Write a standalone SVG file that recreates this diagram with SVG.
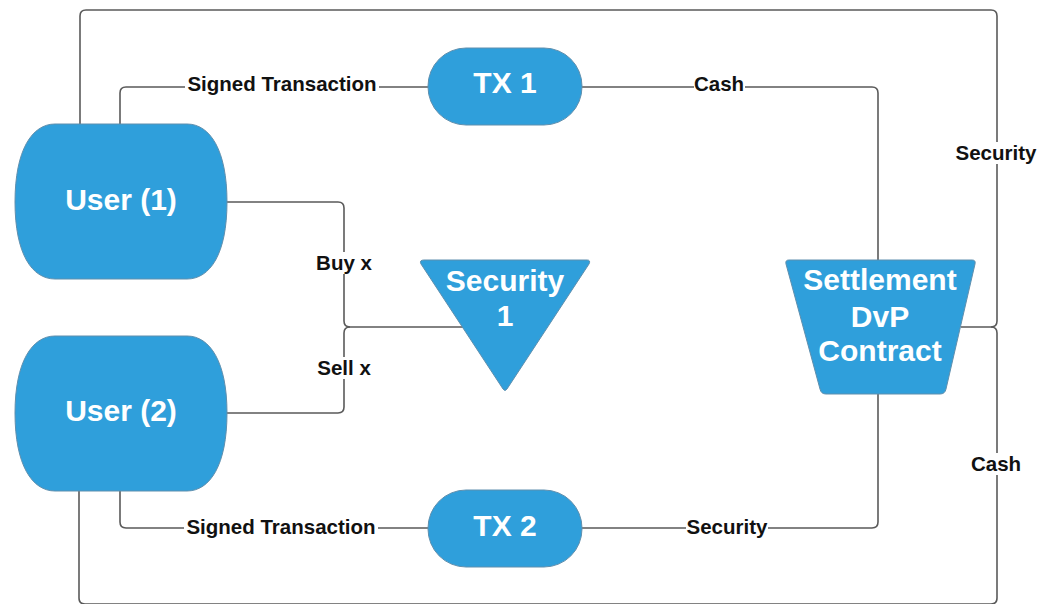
<svg xmlns="http://www.w3.org/2000/svg" width="1047" height="604" viewBox="0 0 1047 604">
<style>
.node{fill:#2f9fdb;stroke:#5f8fae;stroke-width:1}
.nt{font-family:"Liberation Sans",Arial,sans-serif;font-weight:bold;font-size:30px;fill:#fff;text-anchor:middle}
.ln{fill:none;stroke:#5a5a5a;stroke-width:1.6}
.bg{fill:#fff}
.lb{font-family:"Liberation Sans",Arial,sans-serif;font-weight:bold;font-size:20.5px;fill:#111;text-anchor:middle}
</style>
<rect width="1047" height="604" fill="#fff"/>
<g id="connectors">
<path class="ln" d="M80,125 V16 Q80,10 86,10 H991 Q997,10 997,16 V321 Q997,327 991,327 H961"/>
<path class="ln" d="M79,491 V598 Q79,604 85,604 H991 Q997,604 997,598 V333 Q997,327 991,327"/>
<path class="ln" d="M120,125 V93 Q120,87 126,87 H428"/>
<path class="ln" d="M582,87 H872 Q878,87 878,93 V260"/>
<path class="ln" d="M227,202 H338 Q344,202 344,208 V321 Q344,327 350,327 H464"/>
<path class="ln" d="M227,413 H338 Q344,413 344,407 V333 Q344,327 350,327"/>
<path class="ln" d="M120,491 V522 Q120,528 126,528 H428"/>
<path class="ln" d="M582,528 H872 Q878,528 878,522 V394"/>
<rect class="bg" x="185" y="74" width="194" height="22"/>
<text class="lb" x="282" y="91">Signed Transaction</text>
<rect class="bg" x="694" y="74" width="51" height="22"/>
<text class="lb" x="719" y="91">Cash</text>
<rect class="bg" x="955" y="142" width="82" height="22"/>
<text class="lb" x="996" y="160">Security</text>
<rect class="bg" x="316" y="252" width="56" height="22"/>
<text class="lb" x="344" y="270">Buy x</text>
<rect class="bg" x="317" y="357" width="54" height="22"/>
<text class="lb" x="344" y="375">Sell x</text>
<rect class="bg" x="970" y="453" width="52" height="22"/>
<text class="lb" x="996" y="471">Cash</text>
<rect class="bg" x="184" y="516" width="194" height="22"/>
<text class="lb" x="281" y="534">Signed Transaction</text>
<rect class="bg" x="686" y="516" width="82" height="22"/>
<text class="lb" x="727" y="534">Security</text>
</g>
<g id="user1">
<path class="node" d="M55,124 H187 C210,124 227,150 227,202 C227,254 210,279 187,279 H55 C32,279 15,254 15,202 C15,150 32,124 55,124 Z"/>
<text class="nt" x="121" y="210">User (1)</text>
</g>
<g id="user2">
<path class="node" d="M55,336 H187 C210,336 227,362 227,413 C227,465 210,491 187,491 H55 C32,491 15,465 15,413 C15,362 32,336 55,336 Z"/>
<text class="nt" x="121" y="421">User (2)</text>
</g>
<g id="tx1">
<rect class="node" x="428" y="48" width="154" height="77" rx="38" ry="38"/>
<text class="nt" x="505" y="93">TX 1</text>
</g>
<g id="tx2">
<rect class="node" x="428" y="490" width="154" height="77" rx="38" ry="38"/>
<text class="nt" x="505" y="536">TX 2</text>
</g>
<g id="security1">
<path class="node" d="M424,260 H587 Q591,260 589,264 L507,389 Q505,392 503,389 L421,264 Q419,260 424,260 Z"/>
<text class="nt" x="505" y="291">Security</text>
<text class="nt" x="505" y="326">1</text>
</g>
<g id="settlement">
<path class="node" d="M789,260 H972 Q976,260 975,264 L946,389 Q945,394 940,394 H826 Q821,394 820,389 L786,264 Q785,260 789,260 Z"/>
<text class="nt" x="880" y="290">Settlement</text>
<text class="nt" x="880" y="327">DvP</text>
<text class="nt" x="880" y="361">Contract</text>
</g>
</svg>
